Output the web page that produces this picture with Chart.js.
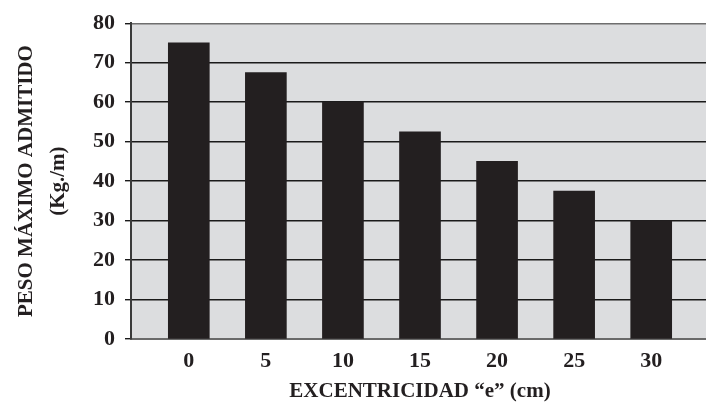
<!DOCTYPE html>
<html>
<head>
<meta charset="utf-8">
<script src="https://cdn.jsdelivr.net/npm/chart.js@4/dist/chart.umd.min.js"></script>
<style>
  html, body { margin: 0; padding: 0; background: #fff; overflow: hidden; }
  #wrap { width: 706px; height: 405px; overflow: hidden; }
</style>
</head>
<body>
<div id="wrap"><canvas id="grafico" width="712" height="405"></canvas></div>
<script>
// datos
var excentricidad = ['0', '5', '10', '15', '20', '25', '30'];
var pesoMaximo = [75, 67.5, 60, 52.5, 45, 37.5, 30];
var yTicks = [0, 10, 20, 30, 40, 50, 60, 70, 80];

var negro = '#231f20';
var fuente = 'Liberation Serif';

// fondo gris del area del grafico
var fondoPlot = {
  id: 'fondoPlot',
  beforeDraw: function(chart) {
    var a = chart.chartArea;
    var ctx = chart.ctx;
    ctx.save();
    ctx.fillStyle = '#dcdddf';
    ctx.fillRect(a.left, a.top, a.right - a.left, a.bottom - a.top);
    ctx.restore();
  }
};

var puntos = pesoMaximo.map(function(v, i) { return { x: i, y: v }; });

var ctx = document.getElementById('grafico');
var chart = new Chart(ctx, {
  type: 'bar',
  data: {
    datasets: [{
      data: puntos,
      backgroundColor: negro,
      borderWidth: 0,
      barThickness: 41
    }]
  },
  plugins: [fondoPlot],
  options: {
    responsive: false,
    animation: false,
    layout: { padding: { top: 22, right: 3, left: 0, bottom: 0 } },
    plugins: {
      legend: { display: false },
      tooltip: { enabled: false }
    },
    scales: {
      x: {
        type: 'linear',
        offset: false,
        min: -0.75,
        max: 6.75,
        afterBuildTicks: function(axis) {
          axis.ticks = excentricidad.map(function(c, i) { return { value: i }; });
        },
        afterFit: function(scale) { scale.height = 66; },
        grid: { display: false, drawTicks: false },
        border: { display: true, color: '#6a6a6a', width: 2 },
        ticks: {
          padding: 9,
          color: negro,
          font: { family: fuente, size: 22, weight: 'bold' },
          callback: function(value) { return excentricidad[value]; }
        },
        title: {
          display: true,
          text: 'EXCENTRICIDAD \u201ce\u201d (cm)',
          color: negro,
          font: { family: fuente, size: 21, weight: 'bold', lineHeight: 1.2 },
          padding: { top: 0, bottom: 1 }
        }
      },
      y: {
        min: 0,
        max: 80,
        afterBuildTicks: function(axis) {
          axis.ticks = yTicks.map(function(v) { return { value: v }; });
        },
        afterFit: function(scale) { scale.width = 131; },
        grid: {
          color: function(c) {
            var v = c.tick ? c.tick.value : 0;
            return (v === 0 || v === 80) ? '#6e6e6e' : '#1a1a1a';
          },
          lineWidth: 1.4,
          tickLength: 6,
          tickColor: '#1a1a1a'
        },
        border: { display: true, color: '#3a3a3a', width: 2 },
        ticks: {
          padding: 10,
          color: negro,
          font: { family: fuente, size: 22, weight: 'bold' }
        },
        title: {
          display: true,
          text: ['PESO M\u00c1XIMO ADMITIDO', '(Kg./m)'],
          color: negro,
          font: { family: fuente, size: 21, weight: 'bold', lineHeight: 1.52 },
          padding: { top: 11, bottom: 0 }
        }
      }
    }
  }
});
</script>
</body>
</html>
